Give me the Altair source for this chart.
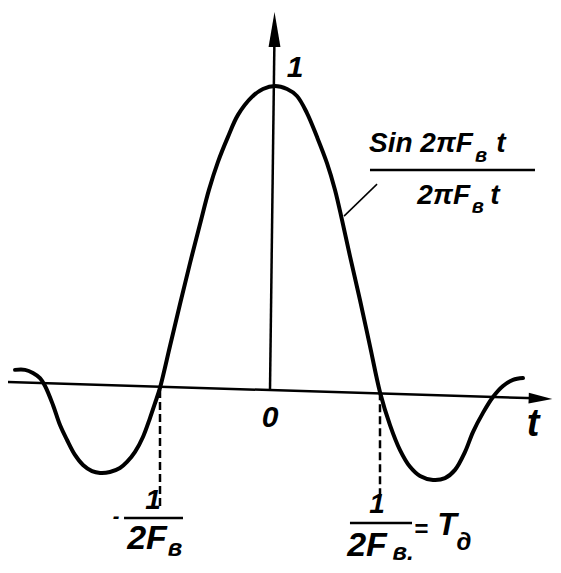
import altair as alt
import pandas as pd

# sinc curve (t in units of 1/(2F), value relative to peak)
curve_t = [-2.318, -2.227, -2.155, -2.091, -2.045, -1.973, -1.909, -1.845, -1.773, -1.700,
           -1.618, -1.545, -1.455, -1.364, -1.300, -1.227, -1.155, -1.091, -1.045, -1.000,
           -0.909, -0.818, -0.727, -0.636, -0.555, -0.473, -0.382, -0.291, -0.164, -0.064,
           0.045, 0.155, 0.245, 0.336, 0.427, 0.518, 0.591, 0.655, 0.727, 0.818,
           0.909, 1.000, 1.091, 1.182, 1.273, 1.364, 1.482, 1.591, 1.682, 1.773,
           1.845, 1.936, 2.027, 2.118, 2.209, 2.300]
curve_v = [0.066, 0.066, 0.056, 0.039, 0.013, -0.049, -0.115, -0.164, -0.213, -0.246,
           -0.266, -0.272, -0.269, -0.256, -0.236, -0.203, -0.154, -0.092, -0.043, 0.007,
           0.144, 0.282, 0.416, 0.544, 0.656, 0.748, 0.830, 0.902, 0.961, 0.987,
           0.997, 0.987, 0.964, 0.908, 0.830, 0.744, 0.656, 0.557, 0.439, 0.295,
           0.144, -0.007, -0.115, -0.197, -0.252, -0.282, -0.295, -0.289, -0.262, -0.203,
           -0.138, -0.075, -0.023, 0.013, 0.033, 0.039]

# axes lines (hand drawn, slightly tilted)
haxis_t = [-2.382, 2.50]
haxis_v = [0.026, -0.028]
vaxis_t = [0.0, 0.041]
vaxis_v = [0.0, 1.17]

# dashed drop lines at the zero crossings
drop_t = [-1.0, 1.0]
drop_top = [0.0, -0.007]
drop_bot = [-0.393, -0.351]

# fraction bars and leader line
bar_x = [0.909, -1.327, 0.727]
bar_x2 = [2.409, -0.791, 1.291]
bar_y = [0.721, -0.420, -0.436]
leader_x = [0.673, 0.973]
leader_y = [0.570, 0.675]

# text labels
lab_text = ["Sin 2πF", "в", "t", "2πF", "в", "t",
            "1", "0", "t",
            "1", "-", "2F", "в",
            "1", "=", "T", "д", "2F", "в."]
lab_x = [1.845, 1.918, 2.100, 1.818, 1.890, 2.045,
         0.227, 0.000, 2.391,
         -1.064, -1.400, -1.118, -0.864,
         0.973, 1.373, 1.609, 1.764, 0.882, 1.210]
lab_y = [0.807, 0.767, 0.807, 0.636, 0.600, 0.636,
         1.056, -0.092, -0.115,
         -0.364, -0.418, -0.490, -0.520,
         -0.377, -0.459, -0.443, -0.502, -0.510, -0.536]
lab_size = [28, 20, 28, 28, 20, 28,
            30, 30, 38,
            28, 20, 34, 24,
            28, 24, 32, 24, 34, 24]
lab_align = ["right", "center", "center", "right", "center", "center",
             "center", "center", "center",
             "center", "center", "center", "center",
             "center", "center", "center", "center", "center", "center"]

X = alt.Scale(domain=[-2.3818, 2.5727])
Y = alt.Scale(domain=[-0.5738, 1.2525])


def xy(xf, yf):
    return dict(x=alt.X(xf, scale=X, axis=None), y=alt.Y(yf, scale=Y, axis=None))


curve_df = pd.DataFrame({"t": curve_t, "v": curve_v})
curve = alt.Chart(curve_df).mark_line(color="black", strokeWidth=4, interpolate="catmull-rom",
                                      strokeCap="round").encode(**xy("t:Q", "v:Q"))

hax = alt.Chart(pd.DataFrame({"t": haxis_t, "v": haxis_v})).mark_line(
    color="black", strokeWidth=2.5).encode(**xy("t:Q", "v:Q"))
vax = alt.Chart(pd.DataFrame({"t": vaxis_t, "v": vaxis_v})).mark_line(
    color="black", strokeWidth=2.5).encode(**xy("t:Q", "v:Q"))

harrow = alt.Chart(pd.DataFrame({"t": [2.459], "v": [-0.028]})).mark_point(
    shape="M1,0L-1,-0.45L-1,0.45Z", filled=True, color="black", size=560, opacity=1,
    angle=2).encode(**xy("t:Q", "v:Q"))
varrow = alt.Chart(pd.DataFrame({"t": [0.041], "v": [1.182]})).mark_point(
    shape="M0,-1L0.34,1L-0.34,1Z", filled=True, color="black", size=1225, opacity=1).encode(
    **xy("t:Q", "v:Q"))

drops = alt.Chart(pd.DataFrame({"t": drop_t, "a": drop_top, "b": drop_bot})).mark_rule(
    color="black", strokeWidth=2.5, strokeDash=[8, 4]).encode(
    **xy("t:Q", "a:Q"), y2="b:Q")

bar_layer = alt.Chart(pd.DataFrame({"x": bar_x, "x2": bar_x2, "y": bar_y})).mark_rule(
    color="black", strokeWidth=2.5).encode(**xy("x:Q", "y:Q"), x2="x2:Q")

lead = alt.Chart(pd.DataFrame({"x": leader_x, "y": leader_y})).mark_line(
    color="black", strokeWidth=1.5).encode(**xy("x:Q", "y:Q"))

texts = []
for i in range(len(lab_text)):
    d = pd.DataFrame({"x": [lab_x[i]], "y": [lab_y[i]], "s": [lab_text[i]]})
    texts.append(alt.Chart(d).mark_text(
        align=lab_align[i], baseline="middle", font="Liberation Sans", fontStyle="italic",
        fontWeight="bold", color="black", fontSize=lab_size[i]).encode(
        **xy("x:Q", "y:Q"), text="s:N"))

chart = alt.layer(hax, vax, harrow, varrow, drops, bar_layer, lead, curve, *texts).properties(
    width=545, height=557, padding=0, autosize=alt.AutoSizeParams(type="none"),
    background="white",
).configure_view(stroke=None)

chart.save("out.html", embed_options={"renderer": "svg", "actions": False})
